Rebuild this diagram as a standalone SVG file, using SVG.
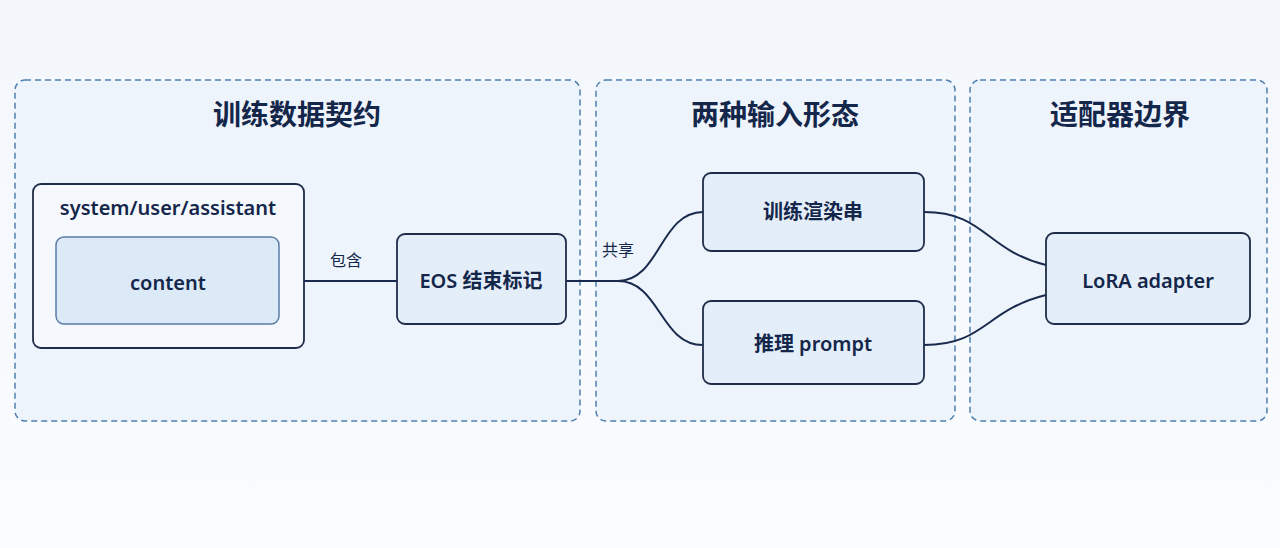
<svg xmlns="http://www.w3.org/2000/svg" width="1280" height="548" viewBox="0 0 1280 548">
<defs>
<linearGradient id="bg" x1="0" y1="0" x2="0" y2="1"><stop offset="0" stop-color="#f3f7fc"/><stop offset="1" stop-color="#fafcfe"/></linearGradient>
<style>
.cl{fill:#edf4fb;stroke:#4f7fb0;stroke-width:1.5;stroke-dasharray:6 4}
.ct{font-family:"Noto Sans CJK SC","Noto Sans",sans-serif;font-size:28px;font-weight:700;fill:#14264a;text-anchor:middle}
.nd{fill:#e3eef9;stroke:#1f2d4a;stroke-width:1.8}
.t{font-family:"Noto Sans","Noto Sans CJK SC",sans-serif;font-size:20px;font-weight:600;fill:#14264a;text-anchor:middle}
.e{fill:none;stroke:#1a2a4e;stroke-width:2}
.lb{font-family:"Noto Sans CJK SC","Noto Sans",sans-serif;font-size:16px;fill:#14264a;text-anchor:middle}
</style>
</defs>
<rect width="1280" height="548" fill="url(#bg)"/>
<g id="cluster-train"><rect class="cl" x="15" y="80" width="565" height="341" rx="10"/><text class="ct" x="297" y="125">训练数据契约</text></g>
<g id="cluster-input"><rect class="cl" x="596" y="80" width="359" height="341" rx="10"/><text class="ct" x="775" y="125">两种输入形态</text></g>
<g id="cluster-adapter"><rect class="cl" x="970" y="80" width="297" height="341" rx="10"/><text class="ct" x="1120" y="125">适配器边界</text></g>
<g id="connectors">
<path class="e" d="M279 281 H397"/>
<path class="e" d="M566 281 H618 C660 281 660 212 703 212"/>
<path class="e" d="M618 281 C660 281 660 345 703 345"/>
<path class="e" d="M924 212 C985 212 985 250 1046 265"/>
<path class="e" d="M924 345 C985 345 985 310 1046 295"/>
<text class="lb" x="346" y="266">包含</text>
<text class="lb" x="618" y="256">共享</text>
</g>
<g id="node-message"><rect x="33" y="184" width="271" height="164" rx="8" fill="#f5f9fd" stroke="#1f2d4a" stroke-width="1.8"/><text class="t" x="168" y="215">system/user/assistant</text></g>
<g id="node-content"><rect x="56" y="237" width="223" height="87" rx="8" fill="#dceaf8" stroke="#5a7ca6" stroke-width="1.5"/><text class="t" x="168" y="290" font-size="21">content</text></g>
<g id="node-eos"><rect class="nd" x="397" y="234" width="169" height="90" rx="8"/><text class="t" x="481" y="288">EOS 结束标记</text></g>
<g id="node-render"><rect class="nd" x="703" y="173" width="221" height="78" rx="8"/><text class="t" x="813" y="219">训练渲染串</text></g>
<g id="node-prompt"><rect class="nd" x="703" y="301" width="221" height="83" rx="8"/><text class="t" x="813" y="351">推理 prompt</text></g>
<g id="node-lora"><rect class="nd" x="1046" y="233" width="204" height="91" rx="8"/><text class="t" x="1148" y="288" font-size="21">LoRA adapter</text></g>
</svg>
